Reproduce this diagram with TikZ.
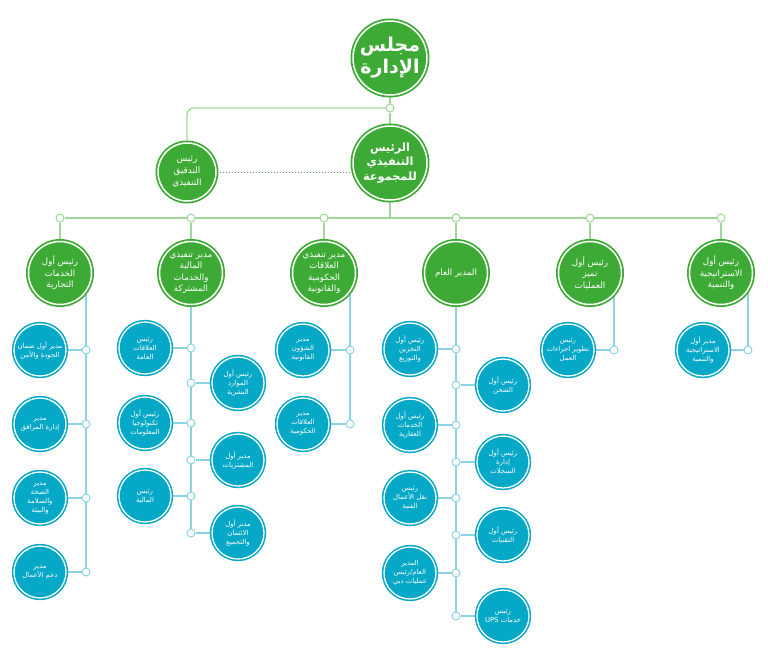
\documentclass[tikz,border=0pt]{standalone}
\usepackage{fontspec}
\newfontfamily\arabicfont[Script=Arabic]{DejaVu Sans}
\TeXXeTstate=1
\usetikzlibrary{backgrounds}
\definecolor{grn}{HTML}{3DAA35}
\definecolor{cyn}{HTML}{05A8C7}
\definecolor{lgrn}{HTML}{9FD79B}
\definecolor{lcyn}{HTML}{8CD3E3}
\newcommand{\ar}[1]{\beginR #1\endR}
\begin{document}
\begin{tikzpicture}
  [x=1pt,y=-1pt,
   gnode/.style={circle,fill=grn,draw=white,line width=1.5pt,text=white,align=center,inner sep=0pt,
     preaction={draw=grn,line width=5pt},minimum size=63pt,
     font=\arabicfont\fontsize{8.7}{11.5}\selectfont},
   cnode/.style={circle,fill=cyn,draw=white,line width=1.3pt,text=white,align=center,inner sep=0pt,
     preaction={draw=cyn,line width=4.4pt},minimum size=52pt,
     font=\arabicfont\fontsize{6.9}{9}\selectfont},
   gj/.style={circle,fill=white,draw=lgrn,line width=1pt,minimum size=8pt,inner sep=0pt},
   cj/.style={circle,fill=white,draw=lcyn,line width=1pt,minimum size=8pt,inner sep=0pt},
   gl/.style={draw=lgrn,line width=1.3pt},
   cl/.style={draw=lcyn,line width=1.3pt}]
  \useasboundingbox (0,0) rectangle (768,657);

  % top
  \node[gnode,minimum size=74pt,font=\arabicfont\bfseries\fontsize{19}{22}\selectfont] (0) at (390,58) {\ar{مجلس}\\\ar{الإدارة}};
  \node[gnode,minimum size=74pt,font=\arabicfont\bfseries\fontsize{11.3}{14.5}\selectfont] (1) at (390,163) {\ar{الرئيس}\\\ar{التنفيذي}\\\ar{للمجموعة}};
  \node[gnode,minimum size=58pt,font=\arabicfont\fontsize{8.8}{11.8}\selectfont] (2) at (187,172) {\ar{رئيس}\\\ar{التدقيق}\\\ar{التنفيذي}};
  \node[gj] (jt) at (390,108) {};
  \coordinate (m) at (390,218);

  % second row
  \node[gnode] (g1) at (60,273) {\ar{رئيس أول}\\\ar{الخدمات}\\\ar{التجارية}};
  \node[gnode] (g2) at (191,273) {\ar{مدير تنفيذي}\\\ar{المالية}\\\ar{والخدمات}\\\ar{المشتركة}};
  \node[gnode] (g3) at (324,273) {\ar{مدير تنفيذي}\\\ar{العلاقات}\\\ar{الحكومية}\\\ar{والقانونية}};
  \node[gnode] (g4) at (456,273) {\ar{المدير العام}};
  \node[gnode] (g5) at (590,273) {\ar{رئيس أول}\\\ar{تميز}\\\ar{العمليات}};
  \node[gnode] (g6) at (721,273) {\ar{رئيس أول}\\\ar{الاستراتيجية}\\\ar{والتنمية}};
  \node[gj] (b1) at (60,218) {};
  \node[gj] (b2) at (191,218) {};
  \node[gj] (b3) at (324,218) {};
  \node[gj] (b4) at (456,218) {};
  \node[gj] (b5) at (590,218) {};
  \node[gj] (b6) at (721,218) {};

  % column 1
  \node[cnode] (s11) at (40,350) {\ar{مدير أول ضمان}\\\ar{الجودة والأمن}};
  \node[cnode] (s12) at (40,424) {\ar{مدير}\\\ar{إدارة المرافق}};
  \node[cnode] (s13) at (40,498) {\ar{مدير}\\\ar{الصحة}\\\ar{والسلامة}\\\ar{والبيئة}};
  \node[cnode] (s14) at (40,572) {\ar{مدير}\\\ar{دعم الأعمال}};
  \node[cj] (j11) at (86,350) {};
  \node[cj] (j12) at (86,424) {};
  \node[cj] (j13) at (86,498) {};
  \node[cj] (j14) at (86,572) {};

  % column 2
  \node[cnode] (s21) at (145,348) {\ar{رئيس}\\\ar{العلاقات}\\\ar{العامة}};
  \node[cnode] (s22) at (238,383) {\ar{رئيس أول}\\\ar{الموارد}\\\ar{البشرية}};
  \node[cnode] (s23) at (145,423) {\ar{رئيس أول}\\\ar{تكنولوجيا}\\\ar{المعلومات}};
  \node[cnode] (s24) at (238,460) {\ar{مدير أول}\\\ar{المشتريات}};
  \node[cnode] (s25) at (145,496) {\ar{رئيس}\\\ar{المالية}};
  \node[cnode] (s26) at (238,533) {\ar{مدير أول}\\\ar{الائتمان}\\\ar{والتجميع}};
  \node[cj] (j21) at (191,348) {};
  \node[cj] (j22) at (191,383) {};
  \node[cj] (j23) at (191,423) {};
  \node[cj] (j24) at (191,460) {};
  \node[cj] (j25) at (191,496) {};
  \node[cj] (j26) at (191,533) {};

  % column 3
  \node[cnode] (s31) at (303,350) {\ar{مدير}\\\ar{الشؤون}\\\ar{القانونية}};
  \node[cnode] (s32) at (303,424) {\ar{مدير}\\\ar{العلاقات}\\\ar{الحكومية}};
  \node[cj] (j31) at (350,350) {};
  \node[cj] (j32) at (350,424) {};

  % column 4
  \node[cnode] (s41) at (410,349) {\ar{رئيس أول}\\\ar{التخزين}\\\ar{والتوزيع}};
  \node[cnode] (s42) at (503,385) {\ar{رئيس أول}\\\ar{الشحن}};
  \node[cnode] (s43) at (410,425) {\ar{رئيس أول}\\\ar{الخدمات}\\\ar{العقارية}};
  \node[cnode] (s44) at (503,462) {\ar{رئيس أول}\\\ar{إدارة}\\\ar{السجلات}};
  \node[cnode] (s45) at (410,498) {\ar{رئيس}\\\ar{نقل الأعمال}\\\ar{الفنية}};
  \node[cnode] (s46) at (503,535) {\ar{رئيس أول}\\\ar{التقنيات}};
  \node[cnode] (s47) at (410,573) {\ar{المدير}\\\ar{العام/رئيس}\\\ar{عمليات دبي}};
  \node[cnode] (s48) at (503,616) {\ar{رئيس}\\\ar{خدمات \beginL UPS\endL}};
  \node[cj] (j41) at (456,349) {};
  \node[cj] (j42) at (456,385) {};
  \node[cj] (j43) at (456,425) {};
  \node[cj] (j44) at (456,462) {};
  \node[cj] (j45) at (456,498) {};
  \node[cj] (j46) at (456,535) {};
  \node[cj] (j47) at (456,573) {};
  \node[cj] (j48) at (456,616) {};

  % columns 5 and 6
  \node[cnode] (s51) at (568,350) {\ar{رئيس}\\\ar{تطوير اجراءات}\\\ar{العمل}};
  \node[cj] (j51) at (614,350) {};
  \node[cnode] (s61) at (703,350) {\ar{مدير أول}\\\ar{الاستراتيجية}\\\ar{والتنمية}};
  \node[cj] (j61) at (748,350) {};

  \begin{scope}[on background layer]
    \draw[gl] (0) -- (jt);
    \draw[gl] (jt) -- (1);
    \draw[gl,rounded corners=7pt] (jt) -| (2);
    \draw[draw=grn!55!gray,dotted,line width=1pt] (2) -- (2 -| 1);
    \draw[gl] (1) -- (m);
    \draw[gl] (b1) -- (b6);
    \draw[gl] (b1) -- (g1);
    \draw[gl] (b2) -- (g2);
    \draw[gl] (b3) -- (g3);
    \draw[gl] (b4) -- (g4);
    \draw[gl] (b5) -- (g5);
    \draw[gl] (b6) -- (g6);

    \draw[cl] (g1 -| j11) -- (j14);
    \draw[cl] (s11) -- (j11);
    \draw[cl] (s12) -- (j12);
    \draw[cl] (s13) -- (j13);
    \draw[cl] (s14) -- (j14);

    \draw[cl] (g2) -- (j26);
    \draw[cl] (s21) -- (j21);
    \draw[cl] (s22) -- (j22);
    \draw[cl] (s23) -- (j23);
    \draw[cl] (s24) -- (j24);
    \draw[cl] (s25) -- (j25);
    \draw[cl] (s26) -- (j26);

    \draw[cl] (g3 -| j31) -- (j32);
    \draw[cl] (s31) -- (j31);
    \draw[cl] (s32) -- (j32);

    \draw[cl] (g4) -- (j48);
    \draw[cl] (s41) -- (j41);
    \draw[cl] (s42) -- (j42);
    \draw[cl] (s43) -- (j43);
    \draw[cl] (s44) -- (j44);
    \draw[cl] (s45) -- (j45);
    \draw[cl] (s46) -- (j46);
    \draw[cl] (s47) -- (j47);
    \draw[cl] (s48) -- (j48);

    \draw[cl] (g5 -| j51) -- (j51);
    \draw[cl] (s51) -- (j51);
    \draw[cl] (g6 -| j61) -- (j61);
    \draw[cl] (s61) -- (j61);
  \end{scope}
\end{tikzpicture}
\end{document}
